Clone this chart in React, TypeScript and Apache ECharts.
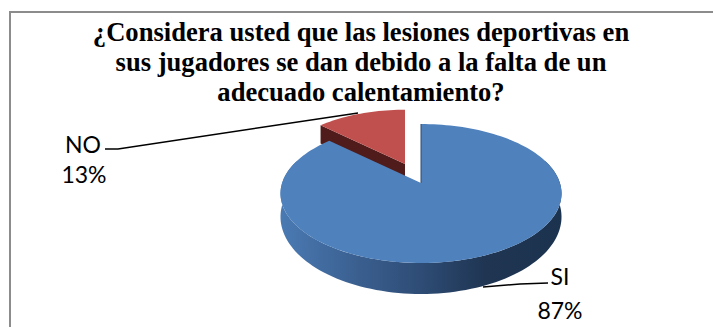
import React, { useEffect, useRef } from "react";
import * as echarts from "echarts";

const titleLines = [
  "¿Considera usted que las lesiones deportivas en",
  "sus jugadores se dan debido a la falta de un",
  "adecuado calentamiento?",
];
const categories = ["SI", "NO"];
const shares = [87, 13];
const topColors = ["#4f81bd", "#c0504d"];
const cutColors = ["#2c4a70", "#4f1c1b"];

// Where each slice's tip sits on the page and how far back it has been pushed.
const tips = [
  { x: 421, y: 183, scale: 1 },
  { x: 405, y: 164, scale: 0.92 },
];
const RX = 138.9;
const RY = 67.9;
const TILT = 0.151;
const FRONT_DEPTH = 31;

const total = shares.reduce((a, b) => a + b, 0);
const startShare = shares.map((_, i) =>
  shares.slice(0, i).reduce((a, b) => a + b, 0)
);

// Perspective projection of a point on the unit disc; angle runs clockwise from 12 o'clock.
function project(i: number, deg: number, r = 1) {
  const a = (deg * Math.PI) / 180;
  const u = r * Math.sin(a);
  const v = -r * Math.cos(a);
  const w = 1 - TILT * v;
  const t = tips[i];
  return {
    x: t.x + (t.scale * RX * u) / w,
    y: t.y + (t.scale * RY * v) / w,
    depth: FRONT_DEPTH * Math.pow((1 - TILT) / w, 2),
  };
}

function arcPoints(i: number, from: number, to: number) {
  const out: { x: number; y: number; depth: number }[] = [];
  const n = Math.max(2, Math.ceil(Math.abs(to - from) / 2));
  for (let k = 0; k <= n; k++) out.push(project(i, from + ((to - from) * k) / n));
  return out;
}

function renderSlice(params: any, api: any) {
  const i = params.dataIndex;
  const idx = categories.length - 1 - i;
  const share = api.value(0);
  const from = (startShare[idx] / total) * 360;
  const to = from + (share / total) * 360;
  const tip = project(idx, 0, 0);
  const start = project(idx, from);
  const children: any[] = [];

  // outer wall: only the part facing the viewer
  const wallFrom = Math.max(from, 70);
  const wallTo = Math.min(to, 290);
  if (wallTo > wallFrom) {
    const rim = arcPoints(idx, wallFrom, wallTo);
    const pts = [
      ...rim.map((p) => [p.x, p.y]),
      ...rim.slice().reverse().map((p) => [p.x, p.y + p.depth]),
    ];
    children.push({
      type: "polygon",
      shape: { points: pts },
      style: {
        fill: new echarts.graphic.LinearGradient(1, 0, 0, 0, [
          { offset: 0, color: "#1c3350" },
          { offset: 0.27, color: "#1f3552" },
          { offset: 0.5, color: "#2e4c75" },
          { offset: 0.72, color: "#3a5f8f" },
          { offset: 1, color: "#4a7ab3" },
        ]),
      },
    });
  }

  if (share < total / 2) {
    // the small slice's leading cut faces the viewer
    children.push({
      type: "polygon",
      shape: {
        points: [
          [tip.x, tip.y],
          [start.x, start.y],
          [start.x, start.y + start.depth],
          [tip.x, tip.y + tip.depth],
        ],
      },
      style: { fill: cutColors[idx] },
    });
  }

  // top face
  const top = arcPoints(idx, from, to).map((p) => [p.x, p.y]);
  children.push({
    type: "polygon",
    shape: { points: [[tip.x, tip.y], ...top] },
    style: { fill: topColors[idx] },
  });

  // thin shaded edge along the cut that is seen edge-on
  if (share >= total / 2) {
    children.push({
      type: "line",
      shape: { x1: tip.x, y1: tip.y, x2: start.x, y2: start.y },
      style: { stroke: cutColors[idx], lineWidth: 1 },
    });
  }
  return { type: "group", children };
}

const labelFont = { fontFamily: "Lato", fontSize: 23, fill: "#000" };

export default function App() {
  const ref = useRef<HTMLDivElement>(null);
  useEffect(() => {
    const chart = echarts.init(ref.current!, undefined, { renderer: "svg" });
    chart.setOption({
      animation: false,
      backgroundColor: "#ffffff",
      title: {
        text: titleLines.join("\n"),
        left: 361,
        top: 17,
        textAlign: "center",
        padding: 0,
        textStyle: {
          fontFamily: "Liberation Serif",
          fontWeight: "bold",
          fontSize: 26.6,
          lineHeight: 30,
          color: "#000",
        },
      },
      series: [
        {
          type: "custom",
          coordinateSystem: "none",
          renderItem: renderSlice,
          silent: true,
          data: categories
            .map((name, i) => ({ name, value: shares[i] }))
            .reverse(),
        },
      ],
      graphic: [
        {
          type: "polyline",
          z: 10,
          shape: { points: [[10, 327], [10, 12], [713, 12]] },
          style: { stroke: "#8c8c8c", lineWidth: 2, fill: "none" },
        },
        {
          type: "polyline",
          z: 10,
          shape: { points: [[105, 149], [118, 149], [358, 113]] },
          style: { stroke: "#000", lineWidth: 1.5, fill: "none" },
        },
        {
          type: "polyline",
          z: 10,
          shape: { points: [[483, 287], [520, 284], [548, 283]] },
          style: { stroke: "#000", lineWidth: 1.5, fill: "none" },
        },
        {
          type: "text",
          z: 10,
          x: 83,
          y: 144,
          style: { ...labelFont, text: categories[1], textAlign: "center", textVerticalAlign: "middle" },
        },
        {
          type: "text",
          z: 10,
          x: 84,
          y: 174,
          style: { ...labelFont, text: `${shares[1]}%`, textAlign: "center", textVerticalAlign: "middle" },
        },
        {
          type: "text",
          z: 10,
          x: 560,
          y: 276,
          style: { ...labelFont, text: categories[0], textAlign: "center", textVerticalAlign: "middle" },
        },
        {
          type: "text",
          z: 10,
          x: 560,
          y: 310,
          style: { ...labelFont, text: `${shares[0]}%`, textAlign: "center", textVerticalAlign: "middle" },
        },
      ],
    });
    return () => chart.dispose();
  }, []);
  return (
    <div
      ref={ref}
      style={{ position: "fixed", left: 0, top: 0, width: 713, height: 327 }}
    />
  );
}
